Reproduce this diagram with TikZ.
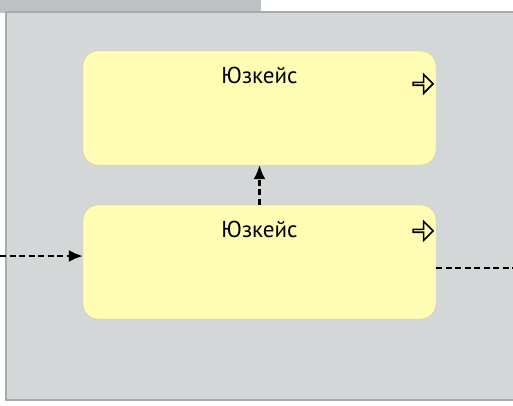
\documentclass[tikz,border=0pt]{standalone}
\usepackage{fontspec}
\setmainfont{PT Sans}
\usetikzlibrary{shapes,arrows.meta,positioning,calc}

\definecolor{framegray}{HTML}{D4D7D8}
\definecolor{framedraw}{HTML}{A8ABAC}
\definecolor{tabgray}{HTML}{BEC1C2}
\definecolor{caseyellow}{HTML}{FFFDB4}
\definecolor{casedraw}{HTML}{CFCB8E}

\begin{document}
\begin{tikzpicture}[x=1pt, y=-1pt,
    usecase/.style={rectangle, rounded corners=15pt, draw=casedraw, fill=caseyellow,
        minimum width=353pt, minimum height=114pt, inner sep=0pt},
    casetitle/.style={font=\fontsize{23}{27}\selectfont, inner sep=0pt},
    caseicon/.style={single arrow, draw=black, fill=caseyellow, line width=1.6pt,
        minimum width=19pt, minimum height=20pt, single arrow head extend=4.5pt,
        single arrow tip angle=90, inner sep=0pt},
    flow/.style={dash pattern=on 6pt off 3.5pt, line width=2.2pt, black},
    flowtip/.style={flow, -{Latex[length=14pt, width=12pt]}}]
    \useasboundingbox (0,0) rectangle (513,405);

    % Frame with its tab
    \fill[tabgray] (0,-2) rectangle (261,13);
    \draw[framedraw, fill=framegray, line width=1.2pt] (6,12) rectangle (520,400);

    % Use cases
    \node[usecase] (upper) at (259.5,108) {};
    \node[casetitle, below=16pt of upper.north] (upperTitle) {Юзкейс};
    \node[caseicon, anchor=east] (upperIcon) at ($(upper.north east)+(-2pt,-33pt)$) {};

    \node[usecase] (lower) at (259.5,262) {};
    \node[casetitle, below=16pt of lower.north] (lowerTitle) {Юзкейс};
    \node[caseicon, anchor=east] (lowerIcon) at ($(lower.north east)+(-2pt,-26pt)$) {};

    % Connectors
    \coordinate (entry) at (0,256);
    \coordinate (exit) at (513,268);
    \draw[flowtip] (lower.north) -- (upper.south);
    \draw[flowtip] (entry) -- (entry -| lower.west);
    \draw[flow] (exit -| lower.east) -- (exit);
\end{tikzpicture}
\end{document}
